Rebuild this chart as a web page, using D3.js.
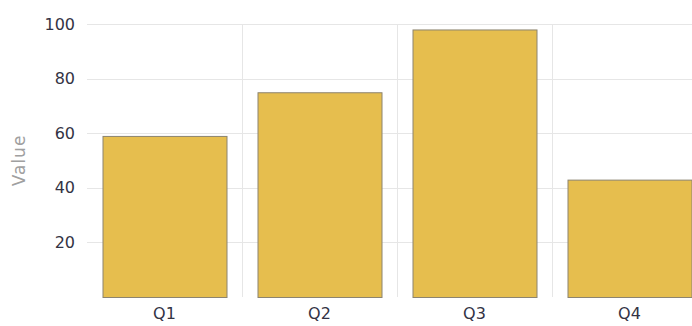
<!DOCTYPE html>
<html><head><meta charset="utf-8">
<script src="https://cdn.jsdelivr.net/npm/d3@7"></script>
<style>body{margin:0;background:#fff}svg{display:block}</style>
</head><body>
<script>
const categories = ["Q1","Q2","Q3","Q4"];
const values = [59, 75, 98, 43];
const yTicks = [20, 40, 60, 80, 100];
const yLabel = "Value";

const W = 692, H = 326;
const m = {left: 87, top: 24, right: -15, bottom: 29};
const svg = d3.select("body").append("svg").attr("width", W).attr("height", H);
const x = d3.scaleBand().domain(categories).range([m.left, W - m.right]).paddingInner(0.2).paddingOuter(0.1);
const y = d3.scaleLinear().domain([0, 100]).range([H - m.bottom, m.top]);
const step = x.step();
const font = "'DejaVu Sans', Verdana, sans-serif";

// horizontal grid
svg.append("g").selectAll("line").data(yTicks).join("line")
  .attr("x1", m.left).attr("x2", W).attr("y1", d => Math.round(y(d)) + 0.5).attr("y2", d => Math.round(y(d)) + 0.5)
  .attr("stroke", "#e6e6e6").attr("stroke-width", 1);
// vertical grid at band boundaries
svg.append("g").selectAll("line").data(categories.slice(1)).join("line")
  .attr("x1", d => Math.round(x(d) - (step - x.bandwidth())/2) + 0.5)
  .attr("x2", d => Math.round(x(d) - (step - x.bandwidth())/2) + 0.5)
  .attr("y1", m.top).attr("y2", H - m.bottom)
  .attr("stroke", "#e6e6e6").attr("stroke-width", 1);

// bars
svg.append("g").selectAll("rect").data(values).join("rect")
  .attr("x", (d, i) => x(categories[i]) + 0.5)
  .attr("width", x.bandwidth())
  .attr("y", d => y(d) + 0.5)
  .attr("height", d => y(0) - y(d))
  .attr("fill", "#e6be4e").attr("stroke", "#8c8470").attr("stroke-width", 1);

// y axis labels
const ya = svg.append("g").attr("transform", `translate(${m.left},0)`)
  .call(d3.axisLeft(y).tickValues(yTicks).tickSize(0).tickPadding(12));
ya.select(".domain").remove();
ya.selectAll("text").attr("font-family", font).attr("font-size", 16).attr("fill", "#333344");

// x axis labels
const xa = svg.append("g").attr("transform", `translate(0,${H - m.bottom})`)
  .call(d3.axisBottom(x).tickSize(0).tickPadding(11));
xa.select(".domain").remove();
xa.selectAll("text").attr("font-family", font).attr("font-size", 16).attr("fill", "#333344");

svg.append("text").attr("transform", `translate(25,${(m.top + H - m.bottom)/2}) rotate(-90)`)
  .attr("text-anchor", "middle").attr("font-family", font).attr("font-size", 17)
  .attr("letter-spacing", 1).attr("fill", "#a0a0a0")
  .text(yLabel);
</script>
</body></html>
